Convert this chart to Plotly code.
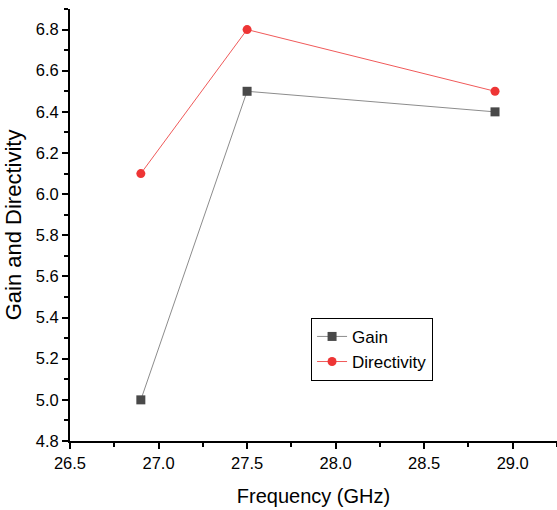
import plotly.graph_objects as go

freq = [26.9, 27.5, 28.9]
gain = [5.0, 6.5, 6.4]
directivity = [6.1, 6.8, 6.5]

font = "Liberation Sans, Arial, sans-serif"

fig = go.Figure()
fig.add_trace(go.Scatter(
    x=freq, y=gain, name="Gain", mode="lines+markers",
    line=dict(color="#8c8c8c", width=1),
    marker=dict(symbol="square", size=9, color="#494949"),
))
fig.add_trace(go.Scatter(
    x=freq, y=directivity, name="Directivity", mode="lines+markers",
    line=dict(color="#f05a5a", width=1),
    marker=dict(symbol="circle", size=9, color="#ee3535"),
))

axis_common = dict(
    showline=True, linecolor="black", linewidth=2,
    ticks="outside", ticklen=6, tickwidth=1.5, tickcolor="black",
    showgrid=False, zeroline=False, mirror=False, automargin=False,
    tickfont=dict(family=font, size=16.5, color="black"),
)

fig.update_xaxes(
    range=[26.5, 29.25], dtick=0.5, tick0=26.5, tickformat=".1f",
    minor=dict(ticks="outside", dtick=0.25, tick0=26.5, ticklen=4, tickwidth=1.5, tickcolor="black"),
    title=dict(text="Frequency (GHz)", font=dict(family=font, size=20, color="black"), standoff=18),
    **axis_common,
)
fig.update_yaxes(
    range=[4.8, 6.9], dtick=0.2, tick0=4.8, tickformat=".1f",
    minor=dict(ticks="outside", dtick=0.1, tick0=4.8, ticklen=4, tickwidth=1.5, tickcolor="black"),
    title=dict(text="Gain and Directivity", font=dict(family=font, size=22, color="black"), standoff=8),
    **axis_common,
)

fig.update_layout(
    width=557, height=510,
    margin=dict(l=70, r=0, t=9, b=69),
    paper_bgcolor="white", plot_bgcolor="white",
    font=dict(family=font, color="black"),
    showlegend=True,
    legend=dict(
        x=0.495, y=0.285, xanchor="left", yanchor="top",
        bordercolor="black", borderwidth=1, bgcolor="white",
        font=dict(family=font, size=17, color="black"),
        tracegroupgap=0,
    ),
)

fig.write_html(
    "out.html",
    config={"displayModeBar": False},
    post_script="document.body.style.margin='0';document.body.style.overflow='hidden';",
)
